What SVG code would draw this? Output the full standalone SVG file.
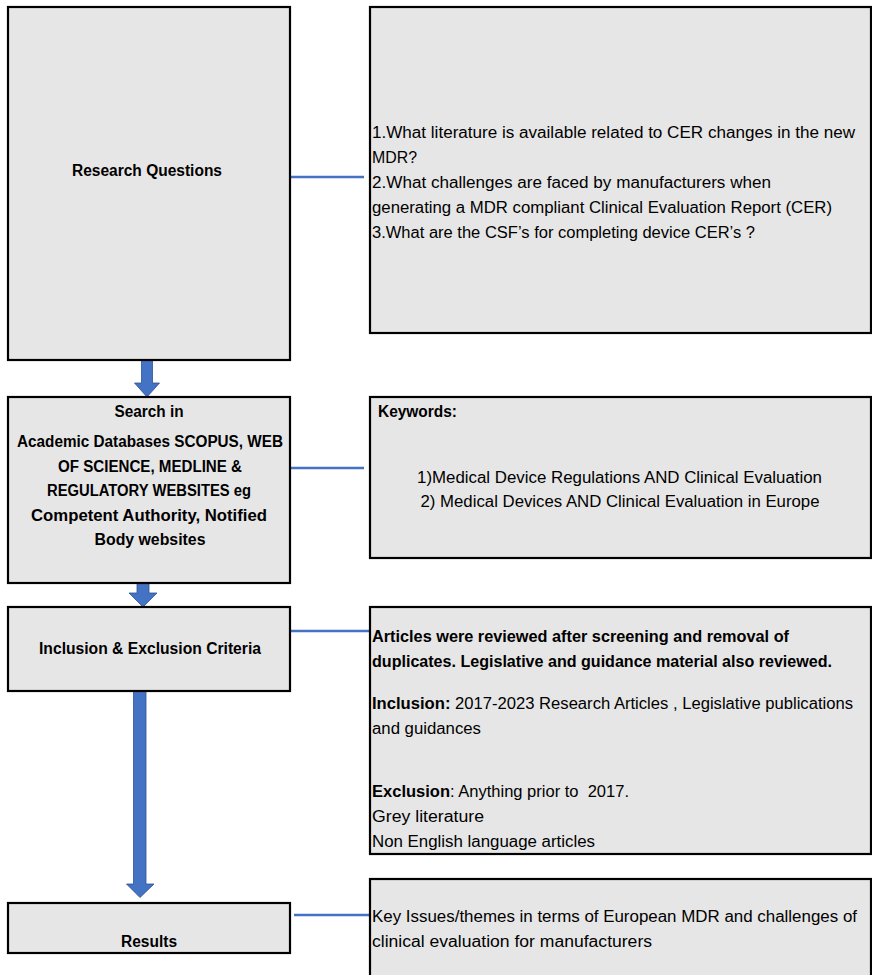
<svg xmlns="http://www.w3.org/2000/svg" width="872" height="975" viewBox="0 0 872 975">
<style>
.box{fill:#e7e6e6;stroke:#000;stroke-width:2.2}
.t{font-family:"Liberation Sans",Arial,sans-serif;font-size:16px;fill:#000}
.b{font-weight:bold}
.c{text-anchor:middle}
.link{stroke:#4472c4;stroke-width:2.5;fill:none}
.arr{fill:#4472c4;stroke:#2f528f;stroke-width:0.8}
</style>
<rect width="872" height="975" fill="#fff"/>
<g id="connectors">
<line class="link" x1="290" y1="177" x2="364" y2="177"/>
<line class="link" x1="290" y1="468" x2="364" y2="468"/>
<line class="link" x1="290" y1="631" x2="369" y2="631"/>
<line class="link" x1="294" y1="915" x2="370" y2="915"/>
<polygon class="arr" points="141.5,360 152.5,360 152.5,383 159.5,383 147,397 134.5,383 141.5,383"/>
<polygon class="arr" points="137,583 149,583 149,593 157,593 143,607 129,593 137,593"/>
<polygon class="arr" points="133.5,690 146,690 146,884 154,884 140,897.5 126.5,884 133.5,884"/>
</g>
<g id="research-questions">
<rect class="box" x="8" y="7" width="282" height="353"/>
<text class="t b c" x="147" y="176" textLength="150" lengthAdjust="spacingAndGlyphs">Research Questions</text>
</g>
<g id="questions">
<rect class="box" x="370" y="7" width="501" height="326"/>
<text class="t" x="372" y="138" textLength="483" lengthAdjust="spacingAndGlyphs">1.What literature is available related to CER changes in the new</text>
<text class="t" x="372" y="163" textLength="45" lengthAdjust="spacingAndGlyphs">MDR?</text>
<text class="t" x="372" y="188" textLength="399" lengthAdjust="spacingAndGlyphs">2.What challenges are faced by manufacturers when</text>
<text class="t" x="372" y="213" textLength="460" lengthAdjust="spacingAndGlyphs">generating a MDR compliant Clinical Evaluation Report (CER)</text>
<text class="t" x="372" y="238" textLength="383" lengthAdjust="spacingAndGlyphs">3.What are the CSF’s for completing device CER’s ?</text>
</g>
<g id="search">
<rect class="box" x="8" y="397" width="282" height="186"/>
<text class="t b c" x="149" y="417" textLength="69" lengthAdjust="spacingAndGlyphs">Search in</text>
<text class="t b c" x="150" y="447" textLength="266" lengthAdjust="spacingAndGlyphs">Academic Databases SCOPUS, WEB</text>
<text class="t b c" x="150" y="472" textLength="184" lengthAdjust="spacingAndGlyphs">OF SCIENCE, MEDLINE &amp;</text>
<text class="t b c" x="149" y="496" textLength="204" lengthAdjust="spacingAndGlyphs">REGULATORY WEBSITES eg</text>
<text class="t b c" x="149" y="521" textLength="236" lengthAdjust="spacingAndGlyphs">Competent Authority, Notified</text>
<text class="t b c" x="150" y="545" textLength="111" lengthAdjust="spacingAndGlyphs">Body websites</text>
</g>
<g id="keywords">
<rect class="box" x="370" y="397" width="501" height="161"/>
<text class="t b" x="378" y="417" textLength="79" lengthAdjust="spacingAndGlyphs">Keywords:</text>
<text class="t c" x="619.5" y="483" textLength="405" lengthAdjust="spacingAndGlyphs">1)Medical Device Regulations AND Clinical Evaluation</text>
<text class="t c" x="620" y="507" textLength="399" lengthAdjust="spacingAndGlyphs">2) Medical Devices AND Clinical Evaluation in Europe</text>
</g>
<g id="criteria">
<rect class="box" x="8" y="607" width="282" height="84"/>
<text class="t b c" x="150" y="654" textLength="222" lengthAdjust="spacingAndGlyphs">Inclusion &amp; Exclusion Criteria</text>
</g>
<g id="criteria-detail">
<rect class="box" x="370" y="607" width="501" height="247"/>
<text class="t b" x="372" y="642" textLength="417" lengthAdjust="spacingAndGlyphs">Articles were reviewed after screening and removal of</text>
<text class="t b" x="372" y="667" textLength="460" lengthAdjust="spacingAndGlyphs">duplicates. Legislative and guidance material also reviewed.</text>
<text class="t" x="372" y="709" textLength="481" lengthAdjust="spacingAndGlyphs"><tspan class="b">Inclusion:</tspan> 2017-2023 Research Articles , Legislative publications</text>
<text class="t" x="372" y="734" textLength="109" lengthAdjust="spacingAndGlyphs">and guidances</text>
<text class="t" x="372" y="797" textLength="257" lengthAdjust="spacingAndGlyphs" style="white-space:pre"><tspan class="b">Exclusion</tspan>: Anything prior to  2017.</text>
<text class="t" x="372" y="822" textLength="112" lengthAdjust="spacingAndGlyphs">Grey literature</text>
<text class="t" x="372" y="847" textLength="223" lengthAdjust="spacingAndGlyphs">Non English language articles</text>
</g>
<g id="results">
<rect class="box" x="8" y="903" width="282" height="50"/>
<text class="t b c" x="149" y="947" textLength="56" lengthAdjust="spacingAndGlyphs">Results</text>
</g>
<g id="results-detail">
<rect class="box" x="370" y="879" width="501" height="110"/>
<text class="t" x="372" y="922" textLength="485" lengthAdjust="spacingAndGlyphs">Key Issues/themes in terms of European MDR and challenges of</text>
<text class="t" x="372" y="947" textLength="280" lengthAdjust="spacingAndGlyphs">clinical evaluation for manufacturers</text>
</g>
</svg>
